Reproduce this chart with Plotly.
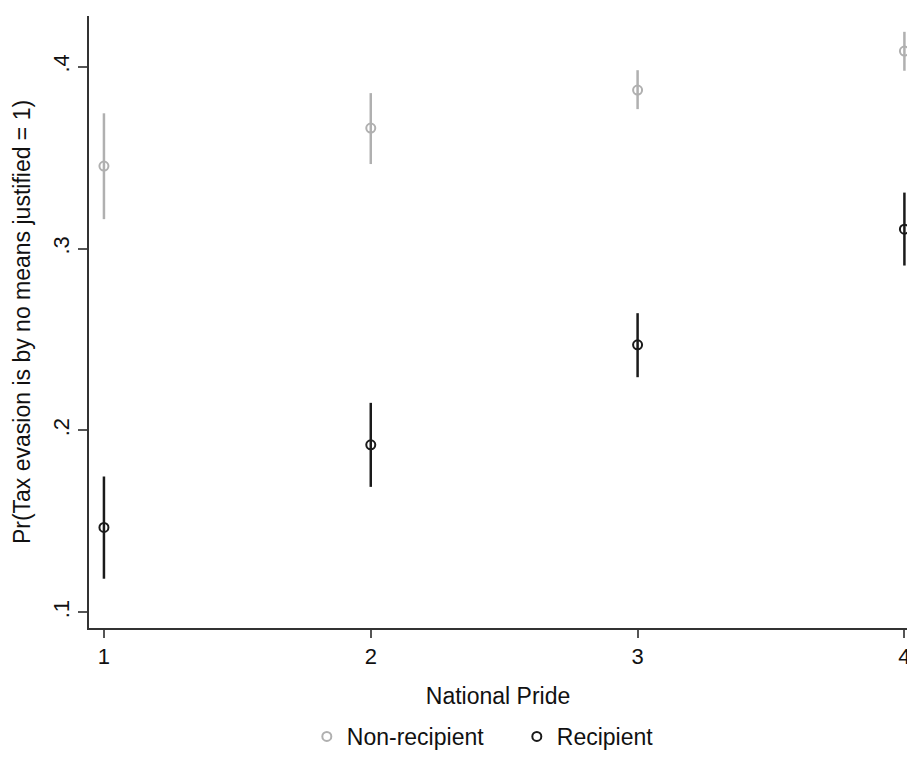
import plotly.graph_objects as go

pride = [1, 2, 3, 4]
tick_vals_y = [0.1, 0.2, 0.3, 0.4]
tick_text_y = [".1", ".2", ".3", ".4"]

non_est = [0.3454, 0.3663, 0.3872, 0.4086]
non_lo = [0.3162, 0.3465, 0.3767, 0.3978]
non_hi = [0.3744, 0.3855, 0.3981, 0.4192]

rec_est = [0.1467, 0.1921, 0.2471, 0.3107]
rec_lo = [0.1185, 0.1690, 0.2293, 0.2907]
rec_hi = [0.1747, 0.2152, 0.2645, 0.3308]

FONT = "Liberation Sans, Arial, sans-serif"
GRAY = "#b0b0b0"
DARK = "#1a1a1a"

fig = go.Figure()
for name, est, lo, hi, col in [
    ("Non-recipient", non_est, non_lo, non_hi, GRAY),
    ("Recipient", rec_est, rec_lo, rec_hi, DARK),
]:
    fig.add_trace(go.Scatter(
        x=pride, y=est, mode="markers", name=name,
        marker=dict(symbol="circle-open", size=9, color=col, line=dict(width=2, color=col)),
        error_y=dict(type="data", symmetric=False,
                     array=[h - e for h, e in zip(hi, est)],
                     arrayminus=[e - l for e, l in zip(est, lo)],
                     color=col, thickness=2.5, width=0),
    ))

fig.update_layout(
    width=907, height=758,
    margin=dict(l=89, r=0, t=16, b=130, autoexpand=False),
    paper_bgcolor="white", plot_bgcolor="white",
    font=dict(family=FONT, size=22, color="#111"),
    showlegend=True,
    legend=dict(orientation="h", x=0.523, xanchor="center",
                yref="container", y=-0.007, yanchor="bottom",
                font=dict(size=23), bgcolor="rgba(0,0,0,0)",
                entrywidth=165, entrywidthmode="pixels"),
)
fig.update_xaxes(
    range=[0.944, 4.0097], tickvals=pride, ticktext=[str(p) for p in pride],
    showline=True, linecolor="#333", linewidth=1.5, mirror=False,
    ticks="outside", ticklen=8, tickwidth=1.5, tickcolor="#555",
    tickfont=dict(size=22), ticklabeloverflow="allow", automargin=False,
    showgrid=False, zeroline=False,
    title=dict(text="National Pride", standoff=20, font=dict(size=23)),
)
fig.update_yaxes(
    range=[0.0914, 0.4279], tickvals=tick_vals_y, ticktext=tick_text_y, tickangle=-90,
    showline=True, linecolor="#333", linewidth=1.5, mirror=False,
    ticks="outside", ticklen=9, tickwidth=1.5, tickcolor="#555",
    tickfont=dict(size=22), automargin=False,
    showgrid=False, zeroline=False,
    title=dict(text="Pr(Tax evasion is by no means justified = 1)", standoff=12, font=dict(size=23)),
)

fig.write_html("out.html")
